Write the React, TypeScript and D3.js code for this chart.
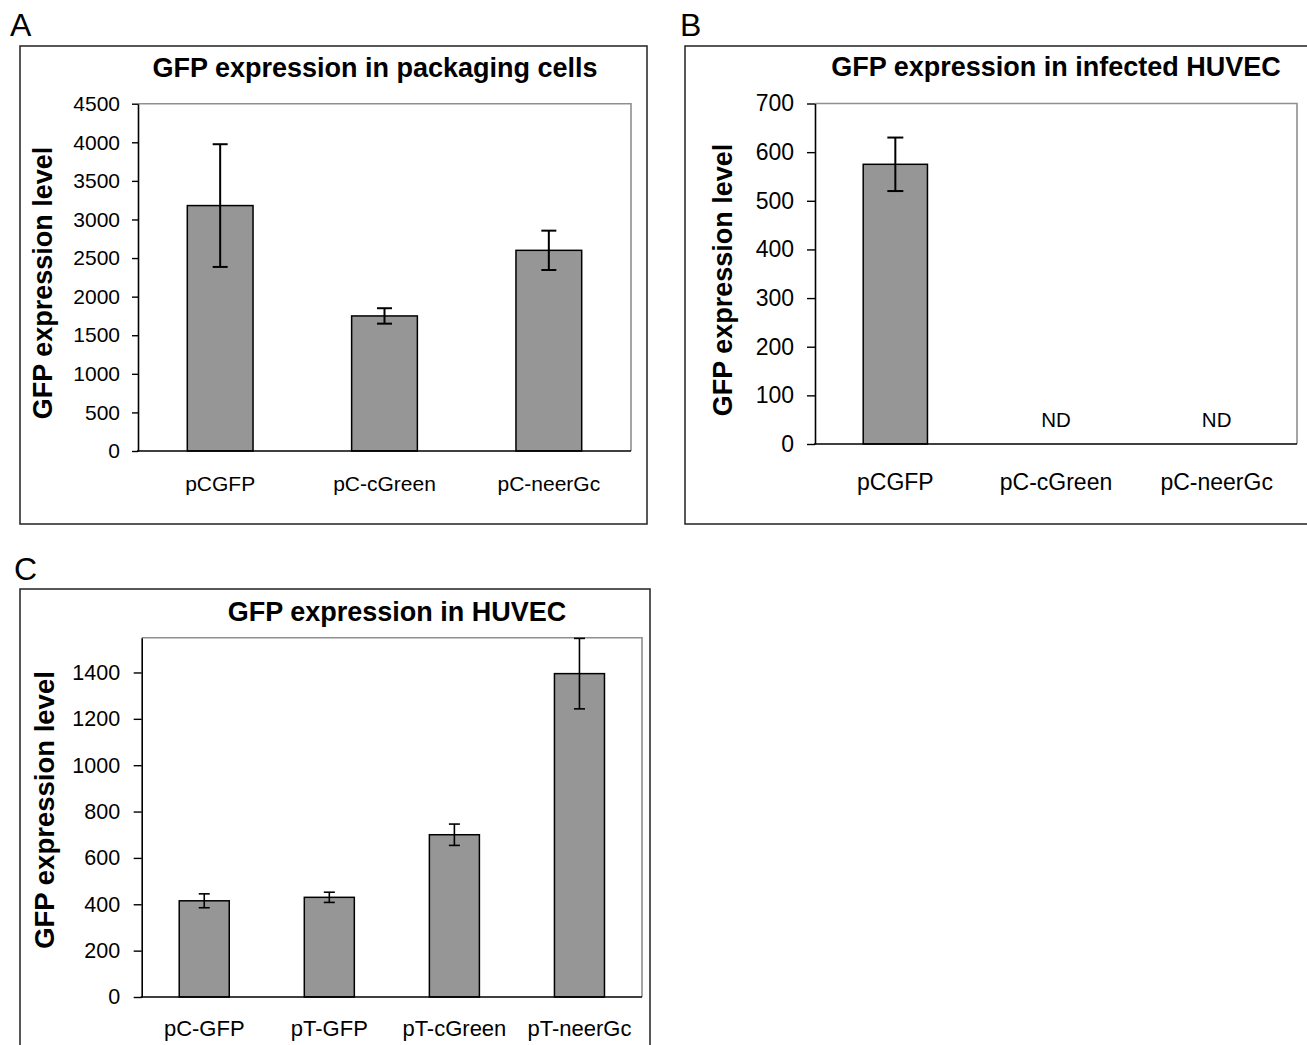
import React, { useEffect, useRef } from "react";
import * as d3 from "d3";

const FONT = "Arial, 'Liberation Sans', Helvetica, sans-serif";

// Panel A - packaging cells
const packagingCategories = ["pCGFP", "pC-cGreen", "pC-neerGc"];
const packagingValues = [3180, 1750, 2600];
const packagingErrors = [795, 100, 255];
const packagingTicks = [0, 500, 1000, 1500, 2000, 2500, 3000, 3500, 4000, 4500];

// Panel B - infected HUVEC (ND = not detected)
const infectedCategories = ["pCGFP", "pC-cGreen", "pC-neerGc"];
const infectedValues = [575, null, null];
const infectedErrors = [55, null, null];
const infectedNotes = ["", "ND", "ND"];
const infectedTicks = [0, 100, 200, 300, 400, 500, 600, 700];

// Panel C - HUVEC
const huvecCategories = ["pC-GFP", "pT-GFP", "pT-cGreen", "pT-neerGc"];
const huvecValues = [415, 430, 700, 1395];
const huvecErrors = [30, 22, 46, 152];
const huvecTicks = [0, 200, 400, 600, 800, 1000, 1200, 1400];

const panels = [
  {
    letter: { text: "A", x: 10, y: 36 },
    box: { x: 20, y: 46, w: 627, h: 478 },
    title: { text: "GFP expression in packaging cells", x: 375, y: 77 },
    plot: { left: 138, top: 103.7, right: 631, bottom: 451 },
    yMax: 4500,
    ticks: packagingTicks,
    categories: packagingCategories,
    values: packagingValues,
    errors: packagingErrors,
    notes: null,
    tickSize: 6,
    tickPadding: 12,
    tickFont: 21,
    xFont: 21,
    xOffset: 39.5,
    yLabel: { x: 43, y: 283, size: 27 },
    cap: 15,
    errWidth: 2,
  },
  {
    letter: { text: "B", x: 680, y: 36 },
    box: { x: 685, y: 46, w: 640, h: 478 },
    title: { text: "GFP expression in infected HUVEC", x: 1056, y: 76 },
    plot: { left: 815, top: 103.5, right: 1297, bottom: 444 },
    yMax: 700,
    ticks: infectedTicks,
    categories: infectedCategories,
    values: infectedValues,
    errors: infectedErrors,
    notes: infectedNotes,
    tickSize: 8,
    tickPadding: 13,
    tickFont: 23,
    xFont: 23,
    xOffset: 46,
    yLabel: { x: 723, y: 280, size: 27 },
    cap: 16,
    errWidth: 2,
  },
  {
    letter: { text: "C", x: 14, y: 580 },
    box: { x: 20, y: 589, w: 630, h: 480 },
    title: { text: "GFP expression in HUVEC", x: 397, y: 621 },
    plot: { left: 141.7, top: 637.7, right: 642, bottom: 997 },
    yMax: 1550,
    ticks: huvecTicks,
    categories: huvecCategories,
    values: huvecValues,
    errors: huvecErrors,
    notes: null,
    tickSize: 8,
    tickPadding: 13.5,
    tickFont: 21.5,
    xFont: 22,
    xOffset: 39,
    yLabel: { x: 44, y: 810, size: 27.5 },
    cap: 11,
    errWidth: 1.6,
  },
];

const drawPanel = (svg, p) => {
  const g = svg.append("g").attr("font-family", FONT);
  const { left, top, right, bottom } = p.plot;

  const x = d3.scaleBand().domain(p.categories).range([left, right]);
  const y = d3.scaleLinear().domain([0, p.yMax]).range([bottom, top]);

  // panel letter
  g.append("text")
    .attr("x", p.letter.x)
    .attr("y", p.letter.y)
    .attr("font-size", 32)
    .attr("fill", "#000")
    .text(p.letter.text);

  // outer chart box
  g.append("rect")
    .attr("x", p.box.x)
    .attr("y", p.box.y)
    .attr("width", p.box.w)
    .attr("height", p.box.h)
    .attr("fill", "#fff")
    .attr("stroke", "#222")
    .attr("stroke-width", 1.5);

  g.append("text")
    .attr("x", p.title.x)
    .attr("y", p.title.y)
    .attr("text-anchor", "middle")
    .attr("font-size", 27)
    .attr("font-weight", "bold")
    .text(p.title.text);

  // plot area frame (top + right in gray)
  g.append("path")
    .attr("d", `M${left},${top}H${right}V${bottom}`)
    .attr("fill", "none")
    .attr("stroke", "#8f8f8f")
    .attr("stroke-width", 1.6);

  const rows = p.categories.map((c, i) => ({
    c,
    v: p.values[i],
    e: p.errors[i],
    note: p.notes ? p.notes[i] : "",
  }));
  const barW = x.bandwidth() * 0.4;
  const cx = (d) => x(d.c) + x.bandwidth() / 2;

  g.append("g")
    .selectAll("rect")
    .data(rows.filter((d) => d.v != null))
    .join("rect")
    .attr("x", (d) => cx(d) - barW / 2)
    .attr("y", (d) => y(d.v))
    .attr("width", barW)
    .attr("height", (d) => y(0) - y(d.v))
    .attr("fill", "#969696")
    .attr("stroke", "#000")
    .attr("stroke-width", 1.5);

  // error bars
  const err = g
    .append("g")
    .attr("stroke", "#000")
    .attr("stroke-width", p.errWidth)
    .selectAll("g")
    .data(rows.filter((d) => d.v != null && d.e != null))
    .join("g");
  err
    .append("line")
    .attr("x1", cx)
    .attr("x2", cx)
    .attr("y1", (d) => y(d.v - d.e))
    .attr("y2", (d) => y(d.v + d.e));
  [-1, 1].forEach((s) => {
    err
      .append("line")
      .attr("x1", (d) => cx(d) - p.cap / 2)
      .attr("x2", (d) => cx(d) + p.cap / 2)
      .attr("y1", (d) => y(d.v + s * d.e))
      .attr("y2", (d) => y(d.v + s * d.e));
  });

  // ND notes
  g.append("g")
    .selectAll("text")
    .data(rows.filter((d) => d.note))
    .join("text")
    .attr("x", cx)
    .attr("y", bottom - 17.5)
    .attr("text-anchor", "middle")
    .attr("font-size", 20.5)
    .text((d) => d.note);

  // y axis
  const yAxis = g
    .append("g")
    .attr("transform", `translate(${left},0)`)
    .call(
      d3
        .axisLeft(y)
        .tickValues(p.ticks)
        .tickFormat(d3.format("d"))
        .tickSize(p.tickSize)
        .tickSizeOuter(0)
        .tickPadding(p.tickPadding)
    );
  yAxis.attr("font-family", FONT).attr("font-size", p.tickFont);
  yAxis.select(".domain").attr("stroke", "#000").attr("stroke-width", 1.6);
  yAxis.selectAll(".tick line").attr("stroke", "#000").attr("stroke-width", 1.4);
  yAxis.selectAll(".tick text").attr("fill", "#000");

  // x axis line
  g.append("line")
    .attr("x1", left - 1)
    .attr("x2", right)
    .attr("y1", y(0))
    .attr("y2", y(0))
    .attr("stroke", "#000")
    .attr("stroke-width", 1.6);

  g.append("g")
    .selectAll("text")
    .data(rows)
    .join("text")
    .attr("x", cx)
    .attr("y", bottom + p.xOffset)
    .attr("text-anchor", "middle")
    .attr("font-size", p.xFont)
    .text((d) => d.c);

  g.append("text")
    .attr("transform", `translate(${p.yLabel.x},${p.yLabel.y}) rotate(-90)`)
    .attr("text-anchor", "middle")
    .attr("dy", "0.35em")
    .attr("font-size", p.yLabel.size)
    .attr("font-weight", "bold")
    .text("GFP expression level");
};

const App = () => {
  const ref = useRef(null);

  useEffect(() => {
    const svg = d3.select(ref.current);
    svg.selectAll("*").remove();
    panels.forEach((p) => drawPanel(svg, p));
  }, []);

  return (
    <svg
      ref={ref}
      width={1307}
      height={1045}
      style={{ position: "absolute", left: 0, top: 0, background: "#fff" }}
    />
  );
};

export default App;
